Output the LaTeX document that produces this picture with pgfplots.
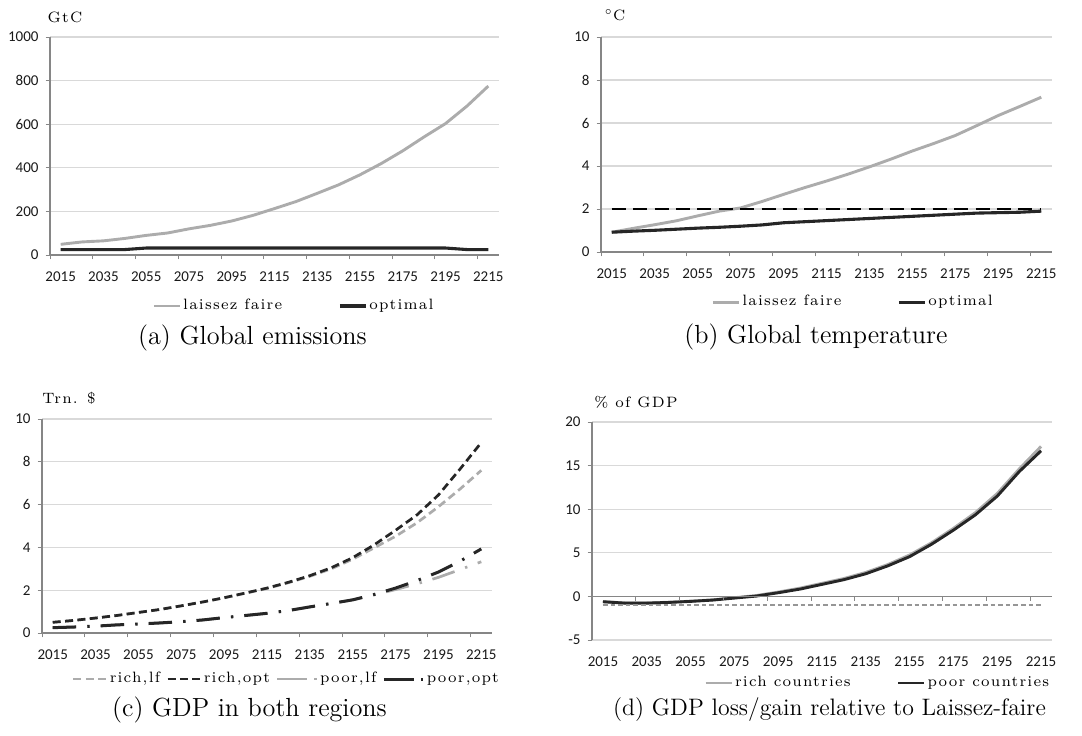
\documentclass[border=0pt]{standalone}
\usepackage{fontspec}
\usepackage{pgfplots}
\pgfplotsset{compat=1.18}
\newfontfamily\carlito{Carlito}
\newfontfamily\lmsp{lmroman7-regular}[Extension=.otf, LetterSpace=8]
\definecolor{lfgray}{RGB}{172,172,172}
\definecolor{dark}{RGB}{38,38,38}
\definecolor{gridgray}{RGB}{217,217,217}
\definecolor{axisgray}{RGB}{134,134,134}
\definecolor{dashgray}{RGB}{150,150,150}
\newcommand{\lgd}{\lmsp\fontsize{7.5}{9}\selectfont}
\newcommand{\capfont}{\fontsize{13.1}{15}\selectfont}
\pgfplotsset{
  excel/.style={
    scale only axis,
    anchor=south west,
    xmin=2010, xmax=2220,
    axis x line*=bottom, axis y line*=left,
    axis line style={draw=axisgray, line width=0.6pt},
    xtick={2010,2030,...,2210},
    xticklabels={},
    extra x ticks={2015,2035,...,2215},
    extra x tick labels={2015,2035,2055,2075,2095,2115,2135,2155,2175,2195,2215},
    extra x tick style={major tick length=0pt, grid=none},
    tick align=outside,
    major tick length=2.2pt,
    tick style={draw=axisgray, line width=0.5pt},
    ymajorgrids,
    grid style={draw=gridgray, line width=0.6pt},
    ticklabel style={font=\carlito\fontsize{7.5}{8}\selectfont, text=black!90},
    xticklabel style={yshift=-5pt},
    /pgf/number format/assume math mode=true,
    /pgf/number format/1000 sep={},
    legend style={draw=none, fill=none, font=\lgd, inner sep=0pt, nodes={inner sep=1pt}, anchor=west},
    legend cell align=left,
    legend image code/.code={\draw[##1] (0pt,0pt) -- (13pt,0pt);},
  },
  shortlegend/.style={legend image code/.code={\draw[##1] (0pt,0pt) -- (16.5pt,0pt);}},
  dashdotlegend/.style={legend image code/.code={\draw[##1, dash pattern=on 15pt off 3.5pt on 1.2pt off 9pt] (0pt,0pt) -- (19.7pt,0pt);}},
}
\begin{document}
\begin{tikzpicture}
\path[use as bounding box] (0pt,0pt) rectangle (541pt,-367.5pt);

% (a) Global emissions
\begin{axis}[excel, at={(25pt,-127.5pt)}, width=224.5pt, height=109pt,
  ymin=0, ymax=1000, ytick={0,200,...,1000},
  legend columns=2,
  legend style={at={(0.227,-0.234)}, /tikz/every even column/.append style={column sep=27pt}}]
\addplot[lfgray, line width=1.45pt] coordinates {
(2015,49)(2025,60)(2035,65)(2045,76)(2055,90)(2065,101)(2075,120)(2085,136)(2095,156)(2105,182)(2115,213)
(2125,245)(2135,283)(2145,322)(2155,368)(2165,420)(2175,478)(2185,542)(2195,603)(2205,683)(2215,775)};
\addlegendentry{laissez faire}
\addplot[dark, line width=1.55pt] coordinates {
(2015,25)(2025,25)(2035,25)(2045,25)(2055,32)(2065,32)(2075,32)(2085,32)(2095,32)(2105,32)(2115,32)
(2125,32)(2135,32)(2145,32)(2155,32)(2165,32)(2175,32)(2185,32)(2195,32)(2205,25)(2215,25)};
\addlegendentry{optimal}
\end{axis}

% (b) Global temperature
\begin{axis}[excel, at={(300.5pt,-126pt)}, width=225.5pt, height=107.5pt,
  ymin=0, ymax=10, ytick={0,2,...,10},
  legend columns=2,
  legend style={at={(0.244,-0.233)}, /tikz/every even column/.append style={column sep=27pt}}]
\addplot[lfgray, line width=1.45pt] coordinates {
(2015,0.92)(2025,1.10)(2035,1.27)(2045,1.45)(2055,1.68)(2065,1.90)(2075,2.05)(2085,2.35)(2095,2.68)(2105,3.00)(2115,3.30)
(2125,3.62)(2135,3.96)(2145,4.32)(2155,4.70)(2165,5.05)(2175,5.42)(2185,5.88)(2195,6.35)(2205,6.77)(2215,7.20)};
\addlegendentry{laissez faire}
\addplot[dark, line width=1.55pt] coordinates {
(2015,0.92)(2025,0.97)(2035,1.01)(2045,1.06)(2055,1.11)(2065,1.15)(2075,1.20)(2085,1.26)(2095,1.36)(2105,1.41)(2115,1.46)
(2125,1.51)(2135,1.56)(2145,1.61)(2155,1.66)(2165,1.71)(2175,1.76)(2185,1.81)(2195,1.83)(2205,1.85)(2215,1.90)};
\addlegendentry{optimal}
\addplot[black, line width=1pt, dash pattern=on 7pt off 3.7pt, forget plot] coordinates {(2015,2)(2215,2)};
\end{axis}

% (c) GDP in both regions
\begin{axis}[excel, at={(21pt,-316.5pt)}, width=225pt, height=107pt,
  ymin=0, ymax=10, ytick={0,2,...,10},
  legend columns=4, shortlegend,
  legend style={at={(0.066,-0.215)}, /tikz/every even column/.append style={column sep=2pt}}]
\addplot[lfgray, line width=1.35pt, dash pattern=on 4pt off 2.2pt] coordinates {
(2015,0.50)(2025,0.59)(2035,0.70)(2045,0.82)(2055,0.96)(2065,1.10)(2075,1.27)(2085,1.45)(2095,1.64)(2105,1.86)(2115,2.08)
(2125,2.35)(2135,2.65)(2145,3.00)(2155,3.45)(2165,3.98)(2175,4.52)(2185,5.15)(2195,5.90)(2205,6.72)(2215,7.60)};
\addlegendentry{rich,lf}
\addplot[dark, line width=1.35pt, dash pattern=on 4pt off 2.2pt] coordinates {
(2015,0.50)(2025,0.59)(2035,0.70)(2045,0.82)(2055,0.96)(2065,1.10)(2075,1.27)(2085,1.45)(2095,1.65)(2105,1.87)(2115,2.10)
(2125,2.37)(2135,2.68)(2145,3.05)(2155,3.52)(2165,4.12)(2175,4.80)(2185,5.52)(2195,6.45)(2205,7.65)(2215,8.90)};
\addlegendentry{rich,opt}
\addplot[lfgray, line width=1.35pt, dash pattern=on 11.7pt off 5.6pt on 1.2pt off 5.5pt, dashdotlegend] coordinates {
(2015,0.25)(2025,0.28)(2035,0.32)(2045,0.38)(2055,0.42)(2065,0.47)(2075,0.53)(2085,0.61)(2095,0.72)(2105,0.82)(2115,0.92)
(2125,1.05)(2135,1.22)(2145,1.38)(2155,1.55)(2165,1.78)(2175,2.03)(2185,2.30)(2195,2.60)(2205,2.96)(2215,3.33)};
\addlegendentry{poor,lf}
\addplot[dark, line width=1.5pt, dash pattern=on 11.7pt off 5.6pt on 1.2pt off 5.5pt, dashdotlegend] coordinates {
(2015,0.25)(2025,0.28)(2035,0.32)(2045,0.38)(2055,0.42)(2065,0.47)(2075,0.53)(2085,0.61)(2095,0.72)(2105,0.82)(2115,0.92)
(2125,1.05)(2135,1.22)(2145,1.38)(2155,1.55)(2165,1.80)(2175,2.10)(2185,2.45)(2195,2.85)(2205,3.35)(2215,3.93)};
\addlegendentry{poor,opt}
\end{axis}

% (d) GDP loss/gain
\begin{axis}[excel, at={(296pt,-320pt)}, width=230pt, height=109pt,
  ymin=-5, ymax=20, ytick={-5,0,...,20},
  x axis line style={draw=gridgray},
  minor tick length=0pt,
  xtick style={draw=none},
  legend columns=2,
  legend style={at={(0.243,-0.197)}, /tikz/every even column/.append style={column sep=22pt}}]
\addplot[lfgray, line width=1.45pt] coordinates {
(2015,-0.60)(2025,-0.75)(2035,-0.75)(2045,-0.67)(2055,-0.55)(2065,-0.40)(2075,-0.15)(2085,0.10)(2095,0.50)(2105,0.95)(2115,1.50)
(2125,2.05)(2135,2.75)(2145,3.65)(2155,4.75)(2165,6.15)(2175,7.80)(2185,9.60)(2195,11.80)(2205,14.60)(2215,17.20)};
\addlegendentry{rich countries}
\addplot[dark, line width=1.45pt] coordinates {
(2015,-0.61)(2025,-0.77)(2035,-0.77)(2045,-0.69)(2055,-0.57)(2065,-0.42)(2075,-0.19)(2085,0.04)(2095,0.42)(2105,0.84)(2115,1.38)
(2125,1.92)(2135,2.60)(2145,3.50)(2155,4.56)(2165,5.98)(2175,7.60)(2185,9.35)(2195,11.50)(2205,14.30)(2215,16.70)};
\addlegendentry{poor countries}
\addplot[dashgray, line width=0.9pt, dash pattern=on 2.3pt off 1.5pt, forget plot] coordinates {(2015,-1)(2215,-1)};
\end{axis}
% x axis of (d) at zero
\begin{axis}[scale only axis, anchor=south west, at={(296pt,-298.2pt)}, width=230pt, height=87.2pt,
  xmin=2010, xmax=2220, ymin=0, ymax=20,
  axis x line*=bottom, axis y line=none,
  axis line style={draw=axisgray, line width=0.6pt},
  xtick={2010,2030,...,2210}, xticklabels={},
  tick align=outside, major tick length=2.2pt,
  tick style={draw=axisgray, line width=0.5pt}]
\end{axis}

% unit labels
\node[font=\lgd] at (32.5pt,-8.5pt) {GtC};
\node[font=\lgd] at (307.5pt,-7.5pt) {$^\circ$C};
\node[font=\lgd] at (34.5pt,-199pt) {Trn. \$};
\node[font=\lgd] at (318pt,-201pt) {\% of GDP};

% captions
\node[font=\capfont] at (126.25pt,-169pt) {(a) Global emissions};
\node[font=\capfont] at (408pt,-168.5pt) {(b) Global temperature};
\node[font=\capfont] at (124.75pt,-355pt) {(c) GDP in both regions};
\node[font=\fontsize{11.9}{14}\selectfont] at (414.75pt,-355pt) {(d) GDP loss/gain relative to Laissez-faire};
\end{tikzpicture}
\end{document}
